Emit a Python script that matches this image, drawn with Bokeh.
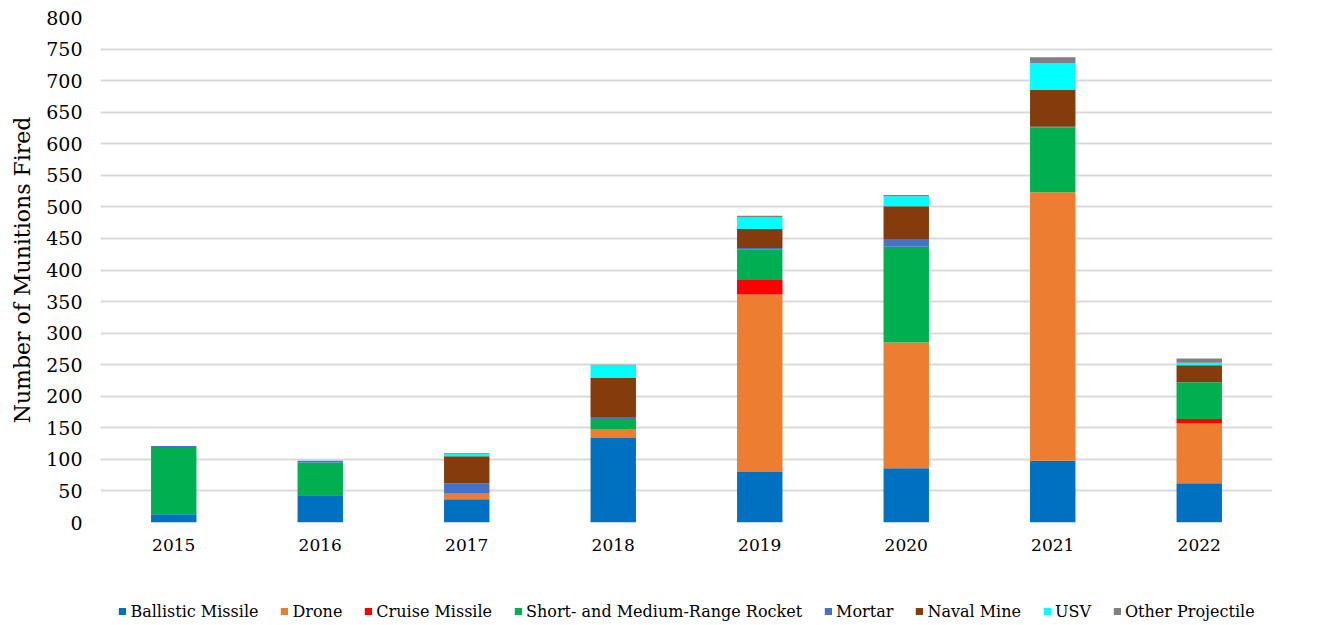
from bokeh.plotting import figure
from bokeh.models import FixedTicker, Legend, LegendItem, ColumnDataSource
from bokeh.layouts import column
from bokeh.embed import file_html
from bokeh.resources import INLINE

years = ["2015", "2016", "2017", "2018", "2019", "2020", "2021", "2022"]
ballistic = [13, 42, 37, 134, 80, 86, 98, 62]
drone = [0, 0, 8, 14, 281, 199, 425, 95]
cruise = [0, 1, 0, 0, 23, 0, 0, 7]
rocket = [105, 52, 1, 16, 48, 152, 103, 58]
mortar = [3, 3, 16, 3, 3, 12, 1, 0]
naval = [0, 0, 43, 62, 30, 52, 58, 27]
usv = [0, 0, 4, 20, 18, 16, 43, 4]
other = [0, 0, 1, 1, 3, 2, 9, 7]

series = ["Ballistic Missile", "Drone", "Cruise Missile", "Short- and Medium-Range Rocket",
          "Mortar", "Naval Mine", "USV", "Other Projectile"]
colors = ["#0070C0", "#ED7D31", "#FF0000", "#00B050", "#4472C4", "#843C0C", "#00FFFF", "#808080"]
yticks = list(range(0, 801, 50))

FONT = "DejaVu Serif"

data = {"years": years}
for name, vals in zip(series, [ballistic, drone, cruise, rocket, mortar, naval, usv, other]):
    data[name] = vals
source = ColumnDataSource(data)

p = figure(x_range=years, y_range=(0, 800), width=1317, height=597,
           min_border_left=100, min_border_right=45, min_border_top=17, min_border_bottom=75,
           output_backend="svg", toolbar_location=None)

p.vbar_stack(series, x="years", width=0.31, source=source, color=colors, line_color=None)

p.outline_line_color = None
p.xgrid.grid_line_color = None
p.ygrid.grid_line_color = "#d9d9d9"
p.ygrid.grid_line_width = 2
p.yaxis.ticker = FixedTicker(ticks=yticks)

for ax in (p.xaxis[0], p.yaxis[0]):
    ax.axis_line_color = None
    ax.major_tick_line_color = None
    ax.minor_tick_line_color = None
    ax.major_tick_out = 0
    ax.major_tick_in = 0
    ax.major_label_text_font = FONT
    ax.major_label_text_color = "#000000"

p.xaxis.major_label_text_font_size = "17px"
p.yaxis.major_label_text_font_size = "19px"
p.yaxis.major_label_standoff = 18
p.xaxis.major_label_standoff = 16
p.yaxis.axis_label = "Number of Munitions Fired"
p.yaxis.axis_label_text_font = FONT
p.yaxis.axis_label_text_font_size = "22px"
p.yaxis.axis_label_text_font_style = "normal"
p.yaxis.axis_label_text_color = "#000000"
p.yaxis.axis_label_standoff = 8

# legend strip below the chart
lf = figure(x_range=years, y_range=(1000, 1001), width=1317, height=28,
            min_border=0, output_backend="svg", toolbar_location=None,
            x_axis_location=None, y_axis_location=None)
lf.outline_line_color = None
lf.grid.grid_line_color = None
lrend = lf.vbar_stack(series, x="years", width=0.31, source=source, color=colors, line_color=None)

items = [LegendItem(label=s, renderers=[r]) for s, r in zip(series, lrend)]
legend = Legend(items=items, orientation="horizontal", location="center",
                glyph_width=9, glyph_height=9, label_text_font=FONT,
                label_text_font_size="16px", label_text_color="#000000",
                label_standoff=4, spacing=21, label_height=18,
                border_line_color=None, background_fill_alpha=0, margin=0, padding=0)
lf.add_layout(legend, "center")

open("out.html", "w").write(file_html(column(p, lf, spacing=0), INLINE))
